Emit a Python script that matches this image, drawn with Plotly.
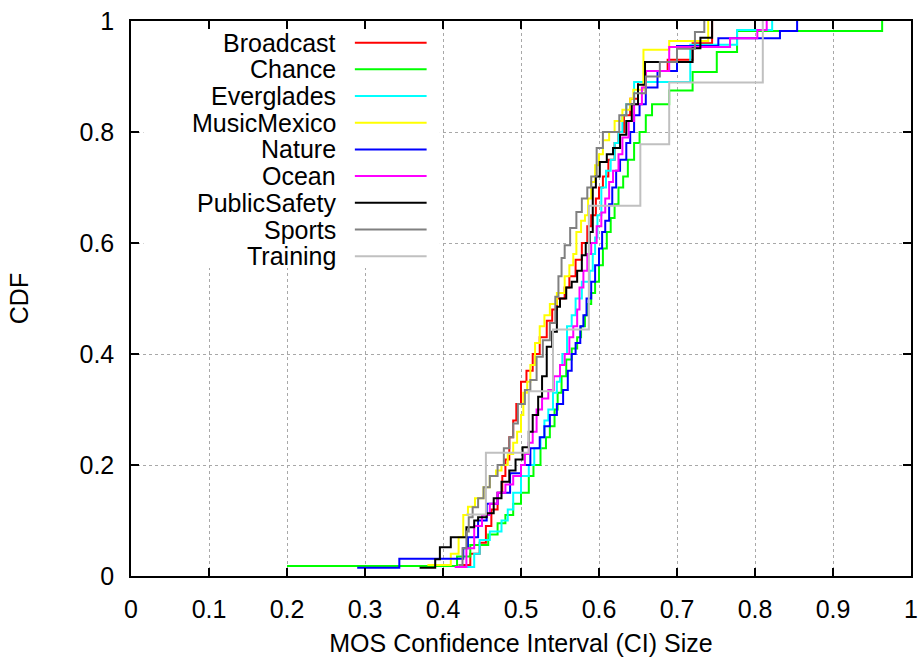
import plotly.graph_objects as go

# ---- data (step positions and CDF levels) ----
series_names = ["Broadcast", "Chance", "Everglades", "MusicMexico", "Nature",
                "Ocean", "PublicSafety", "Sports", "Training"]
series_colors = ["#ff0000", "#00ff00", "#00ffff", "#ffff00", "#0000ff",
                 "#ff00ff", "#000000", "#808080", "#c0c0c0"]

broadcast_x = [0.420, 0.435, 0.447, 0.455, 0.462, 0.470, 0.476, 0.480, 0.485, 0.490, 0.494, 0.500, 0.507,
               0.515, 0.524, 0.533, 0.540, 0.546, 0.556, 0.562, 0.570, 0.578, 0.585, 0.590, 0.596, 0.600,
               0.605, 0.612, 0.620, 0.625, 0.632, 0.640, 0.650, 0.660, 0.688, 0.720, 0.745]
broadcast_y = [0.02, 0.04, 0.06, 0.09, 0.12, 0.15, 0.18, 0.21, 0.25, 0.28, 0.31, 0.35, 0.37,
               0.40, 0.43, 0.46, 0.48, 0.50, 0.52, 0.54, 0.57, 0.60, 0.63, 0.65, 0.68, 0.70,
               0.72, 0.75, 0.78, 0.80, 0.83, 0.86, 0.89, 0.91, 0.93, 0.96, 1.0]

chance_x = [0.200, 0.418, 0.435, 0.458, 0.470, 0.480, 0.490, 0.500, 0.510, 0.516, 0.525, 0.532, 0.537,
            0.543, 0.547, 0.552, 0.558, 0.565, 0.572, 0.577, 0.582, 0.586, 0.590, 0.595, 0.600, 0.605,
            0.610, 0.615, 0.620, 0.625, 0.631, 0.637, 0.645, 0.652, 0.660, 0.668, 0.690, 0.720, 0.751,
            0.777, 0.963]
chance_y = [0.018, 0.035, 0.056, 0.075, 0.095, 0.11, 0.13, 0.15, 0.18, 0.20, 0.23, 0.25, 0.27,
            0.30, 0.33, 0.36, 0.39, 0.41, 0.43, 0.45, 0.47, 0.49, 0.51, 0.53, 0.56, 0.59,
            0.62, 0.645, 0.67, 0.70, 0.72, 0.75, 0.78, 0.80, 0.83, 0.85, 0.875, 0.908, 0.944,
            0.982, 1.0]

everglades_x = [0.430, 0.440, 0.447, 0.460, 0.475, 0.483, 0.490, 0.500, 0.510, 0.517, 0.525, 0.530,
                0.535, 0.541, 0.546, 0.550, 0.553, 0.559, 0.565, 0.570, 0.578, 0.588, 0.592, 0.595,
                0.598, 0.603, 0.609, 0.615, 0.620, 0.625, 0.630, 0.635, 0.645, 0.717, 0.777, 0.822]
everglades_y = [0.016, 0.04, 0.065, 0.08, 0.10, 0.12, 0.15, 0.18, 0.20, 0.23, 0.25, 0.28,
                0.30, 0.33, 0.35, 0.38, 0.40, 0.45, 0.47, 0.50, 0.53, 0.55, 0.58, 0.61,
                0.65, 0.70, 0.73, 0.75, 0.78, 0.80, 0.83, 0.85, 0.89, 0.957, 0.984, 1.0]

musicmexico_x = [0.380, 0.410, 0.420, 0.426, 0.432, 0.441, 0.452, 0.460, 0.468, 0.475, 0.483, 0.490,
                 0.495, 0.500, 0.503, 0.508, 0.512, 0.518, 0.524, 0.530, 0.537, 0.546, 0.556, 0.562,
                 0.567, 0.571, 0.577, 0.582, 0.586, 0.590, 0.595, 0.600, 0.605, 0.613, 0.620, 0.630,
                 0.640, 0.644, 0.657, 0.690, 0.740]
musicmexico_y = [0.02, 0.04, 0.07, 0.11, 0.125, 0.14, 0.16, 0.18, 0.19, 0.20, 0.22, 0.24,
                 0.26, 0.29, 0.33, 0.35, 0.38, 0.42, 0.45, 0.47, 0.49, 0.51, 0.54, 0.56,
                 0.58, 0.62, 0.64, 0.65, 0.68, 0.71, 0.74, 0.76, 0.785, 0.80, 0.82, 0.84,
                 0.86, 0.876, 0.948, 0.964, 1.0]

nature_x = [0.290, 0.344, 0.426, 0.432, 0.445, 0.456, 0.470, 0.486, 0.500, 0.512, 0.524, 0.530, 0.537,
            0.546, 0.554, 0.560, 0.565, 0.570, 0.576, 0.580, 0.584, 0.590, 0.595, 0.600, 0.604, 0.608,
            0.613, 0.617, 0.622, 0.627, 0.635, 0.640, 0.645, 0.652, 0.660, 0.675, 0.700, 0.753, 0.832,
            0.854]
nature_y = [0.015, 0.031, 0.05, 0.07, 0.10, 0.13, 0.15, 0.185, 0.20, 0.23, 0.25, 0.27, 0.29,
            0.31, 0.335, 0.37, 0.40, 0.42, 0.45, 0.47, 0.50, 0.53, 0.56, 0.59, 0.62, 0.64,
            0.67, 0.70, 0.73, 0.75, 0.78, 0.80, 0.83, 0.85, 0.88, 0.91, 0.955, 0.969, 0.982,
            1.0]

ocean_x = [0.415, 0.430, 0.440, 0.450, 0.460, 0.470, 0.480, 0.490, 0.500, 0.505, 0.510, 0.515, 0.520,
           0.527, 0.535, 0.542, 0.550, 0.556, 0.562, 0.567, 0.572, 0.575, 0.580, 0.585, 0.590, 0.597,
           0.603, 0.608, 0.613, 0.618, 0.625, 0.630, 0.638, 0.645, 0.655, 0.660, 0.690, 0.768, 0.803,
           0.815]
ocean_y = [0.016, 0.05, 0.09, 0.11, 0.13, 0.15, 0.165, 0.18, 0.20, 0.22, 0.24, 0.26, 0.30,
           0.32, 0.335, 0.36, 0.38, 0.40, 0.43, 0.45, 0.48, 0.52, 0.55, 0.58, 0.60, 0.63,
           0.655, 0.68, 0.71, 0.73, 0.76, 0.79, 0.82, 0.85, 0.88, 0.91, 0.953, 0.969, 0.984,
           1.0]

publicsafety_x = [0.370, 0.390, 0.396, 0.410, 0.430, 0.440, 0.445, 0.456, 0.465, 0.475, 0.485, 0.493,
                  0.502, 0.510, 0.515, 0.522, 0.527, 0.533, 0.540, 0.546, 0.550, 0.558, 0.565, 0.572,
                  0.578, 0.583, 0.588, 0.592, 0.596, 0.601, 0.610, 0.618, 0.627, 0.635, 0.642, 0.650,
                  0.659, 0.720, 0.730, 0.745]
publicsafety_y = [0.015, 0.03, 0.052, 0.07, 0.088, 0.10, 0.106, 0.113, 0.14, 0.17, 0.19, 0.21,
                  0.232, 0.26, 0.29, 0.323, 0.36, 0.413, 0.44, 0.485, 0.50, 0.52, 0.53, 0.55,
                  0.578, 0.60, 0.62, 0.70, 0.72, 0.746, 0.76, 0.771, 0.795, 0.82, 0.85, 0.885,
                  0.926, 0.951, 0.97, 1.0]

sports_x = [0.420, 0.425, 0.430, 0.433, 0.438, 0.445, 0.452, 0.460, 0.470, 0.478, 0.485, 0.490, 0.496,
            0.505, 0.512, 0.520, 0.528, 0.537, 0.544, 0.548, 0.552, 0.556, 0.563, 0.571, 0.578, 0.585,
            0.590, 0.597, 0.605, 0.626, 0.635, 0.645, 0.660, 0.678, 0.700, 0.723, 0.735]
sports_y = [0.02, 0.05, 0.08, 0.106, 0.124, 0.14, 0.16, 0.18, 0.20, 0.23, 0.25, 0.275, 0.31,
            0.335, 0.353, 0.395, 0.425, 0.456, 0.503, 0.54, 0.573, 0.596, 0.627, 0.656, 0.68, 0.70,
            0.72, 0.771, 0.80, 0.83, 0.85, 0.87, 0.90, 0.926, 0.95, 0.98, 1.0]

training_x = [0.430, 0.455, 0.510, 0.541, 0.587, 0.653, 0.690, 0.810]
training_y = [0.111, 0.222, 0.333, 0.444, 0.667, 0.778, 0.889, 1.0]

series_x = [broadcast_x, chance_x, everglades_x, musicmexico_x, nature_x,
            ocean_x, publicsafety_x, sports_x, training_x]
series_y = [broadcast_y, chance_y, everglades_y, musicmexico_y, nature_y,
            ocean_y, publicsafety_y, sports_y, training_y]

x_ticks = [0, 0.1, 0.2, 0.3, 0.4, 0.5, 0.6, 0.7, 0.8, 0.9, 1]
x_tick_text = ["0", "0.1", "0.2", "0.3", "0.4", "0.5", "0.6", "0.7", "0.8", "0.9", "1"]
y_ticks = [0, 0.2, 0.4, 0.6, 0.8, 1]
y_tick_text = ["0", "0.2", "0.4", "0.6", "0.8", "1"]

FONT = "Liberation Sans, Arial, sans-serif"
FS = 25

fig = go.Figure()
for name, color, xs, ys in zip(series_names, series_colors, series_x, series_y):
    assert len(xs) == len(ys), name
    fig.add_trace(go.Scatter(x=xs, y=ys, mode="lines", name=name,
                             line=dict(color=color, width=2, shape="hv"),
                             showlegend=False))

# custom gnuplot-style key: white box hiding the grid, text right-aligned, sample line to the right
shapes = [dict(type="rect", xref="x", yref="y", x0=0.016, x1=0.396, y0=0.555, y1=0.999,
               fillcolor="white", line=dict(width=0), layer="between")]
annotations = []
for i, (name, color) in enumerate(zip(series_names, series_colors)):
    yy = 0.961 - 0.0481 * i
    annotations.append(dict(x=0.266, y=yy, xref="x", yref="y", text=name, showarrow=False,
                            xanchor="right", yanchor="middle",
                            font=dict(family=FONT, size=FS, color="black")))
    shapes.append(dict(type="line", xref="x", yref="y", x0=0.287, x1=0.379, y0=yy, y1=yy,
                       line=dict(color=color, width=2), layer="above"))

axis_common = dict(showline=True, linecolor="black", linewidth=1.5, mirror="ticks",
                   ticks="inside", ticklen=8, tickwidth=1.5, tickcolor="black",
                   showgrid=True, gridcolor="#a8a8a8", griddash="dot", gridwidth=1,
                   zeroline=False, automargin=False,
                   tickfont=dict(family=FONT, size=FS, color="black"))

fig.update_layout(
    width=922, height=657,
    margin=dict(l=131, r=11, t=21, b=81),
    plot_bgcolor="white", paper_bgcolor="white",
    xaxis=dict(range=[0, 1], tickvals=x_ticks, ticktext=x_tick_text,
               title=dict(text="MOS Confidence Interval (CI) Size",
                          font=dict(family=FONT, size=FS, color="black"), standoff=18),
               ticklabelstandoff=10, **axis_common),
    yaxis=dict(range=[0, 1], tickvals=y_ticks, ticktext=y_tick_text,
               title=dict(text="CDF", font=dict(family=FONT, size=FS, color="black"), standoff=44),
               ticklabelstandoff=10, **axis_common),
    shapes=shapes, annotations=annotations,
    showlegend=False,
)

fig.write_html("out.html")
